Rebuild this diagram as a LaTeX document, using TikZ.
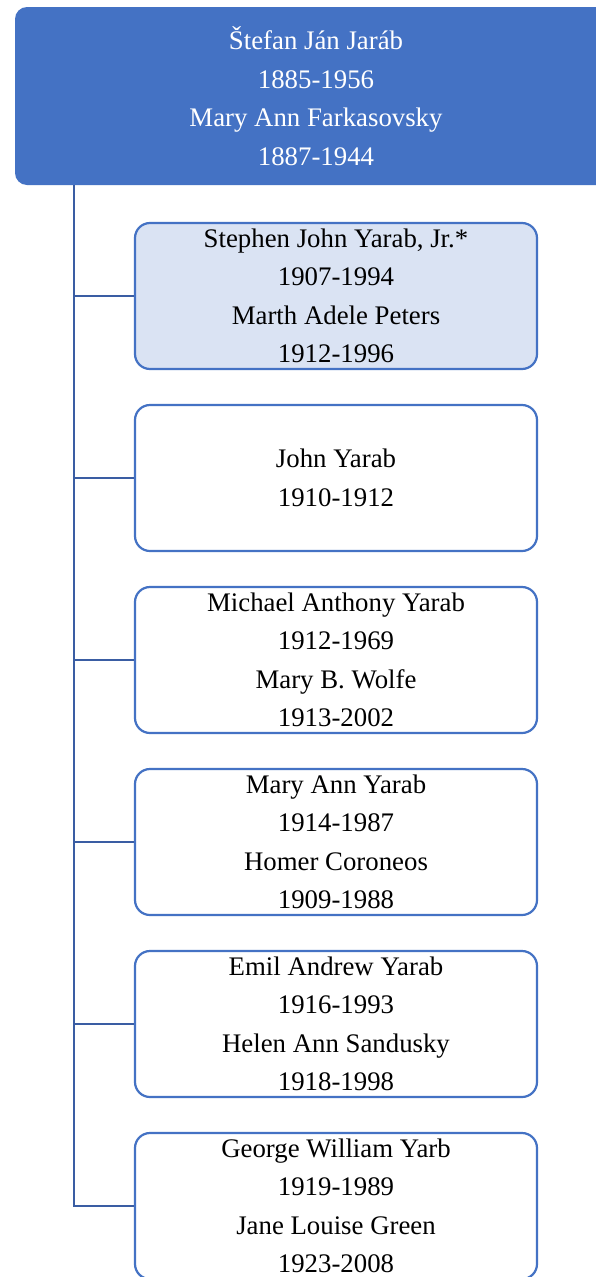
\documentclass[tikz,border=0pt]{standalone}
\usepackage{fontspec}
\setmainfont{Liberation Serif}
\definecolor{accent}{HTML}{4472C4}
\definecolor{paleblue}{HTML}{DAE3F3}
\definecolor{linkblue}{HTML}{3A5DA3}
\begin{document}
\begin{tikzpicture}[x=1pt,y=-1pt,
  parentbox/.style={draw=none, fill=accent, rounded corners=12pt, text=white,
    minimum width=602pt, minimum height=178pt, align=center, inner sep=0pt,
    font=\fontsize{26.8}{38.5}\selectfont},
  childbox/.style={draw=accent, line width=2.2pt, fill=white, rounded corners=15pt,
    minimum width=402pt, minimum height=146pt, align=center, inner sep=0pt,
    font=\fontsize{26.8}{38.5}\selectfont},
  link/.style={draw=linkblue, line width=2.2pt}]
\useasboundingbox (0,0) rectangle (596,1277);
\clip (0,0) rectangle (596,1277);
\fill[white] (0,0) rectangle (596,1277);

% couple at the head of the family
\node[parentbox] (top) at (316,96) {Štefan Ján Jaráb\\1885-1956\\Mary Ann Farkasovsky\\1887-1944};

% children with their spouses
\node[childbox, fill=paleblue] (c1) at (336,296) {Stephen John Yarab, Jr.*\\1907-1994\\Marth Adele Peters\\1912-1996};
\node[childbox] (c2) at (336,478) {John Yarab\\1910-1912};
\node[childbox] (c3) at (336,660) {Michael Anthony Yarab\\1912-1969\\Mary B. Wolfe\\1913-2002};
\node[childbox] (c4) at (336,842) {Mary Ann Yarab\\1914-1987\\Homer Coroneos\\1909-1988};
\node[childbox] (c5) at (336,1024) {Emil Andrew Yarab\\1916-1993\\Helen Ann Sandusky\\1918-1998};
\node[childbox] (c6) at (336,1206) {George William Yarb\\1919-1989\\Jane Louise Green\\1923-2008};

% trunk line and branches
\coordinate (trunk) at (74,0);
\draw[link] (top.south -| trunk) |- (c6.west);
\foreach \c in {c1,c2,c3,c4,c5}
  \draw[link] (trunk |- \c.west) -- (\c.west);
\end{tikzpicture}
\end{document}
